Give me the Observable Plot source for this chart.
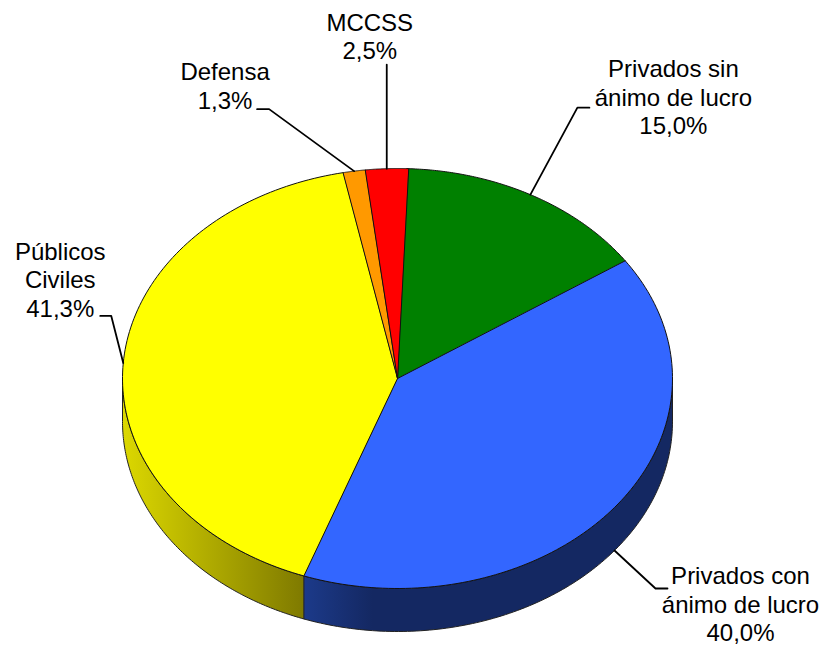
<!DOCTYPE html>
<html>
<head>
<meta charset="utf-8">
<style>html,body{margin:0;padding:0;background:#fff}svg{display:block}</style>
<script src="https://cdn.jsdelivr.net/npm/d3@7"></script>
<script src="https://cdn.jsdelivr.net/npm/@observablehq/plot@0.6"></script>
</head>
<body>
<script>
// Data, clockwise from the first slice after the top of the pie
const names = ["Privados sin ánimo de lucro", "Privados con ánimo de lucro", "Públicos Civiles", "Defensa", "MCCSS"];
const labelLines = ["Privados sin\nánimo de lucro", "Privados con\nánimo de lucro", "Públicos\nCiviles", "Defensa", "MCCSS"];
const shares = [15.0, 40.0, 41.3, 1.3, 2.5];
const sliceColors = ["#008000", "#3366FF", "#FFFF00", "#FF9900", "#FF0000"];

// Chart layout
const W = 825, H = 646;
const cx = 397, cy = 378, rx = 275, ry = 210, depth = 43;
const startDeg = 1.9;
const toX = px => (px - cx) / rx;
const toY = py => (cy - py) / ry;
const rad = d => d * Math.PI / 180;

// cumulative angles from the shares
let acc = startDeg;
const slices = names.map((name, i) => {
  const a0 = acc, a1 = acc + shares[i] * 3.6;
  acc = a1;
  return {name, a0, a1, mid: (a0 + a1) / 2};
});
const arc = (a0, a1) => d3.range(0, 121).map(k => {
  const a = rad(a0 + (a1 - a0) * k / 120);
  return {x: Math.sin(a), y: Math.cos(a)};
});

const topPts = slices.flatMap(s => [
  {name: s.name, x: 0, y: 0},
  ...arc(s.a0, s.a1).map(p => ({name: s.name, ...p}))
]);

// The wall is the front half of each slice, lowered by the depth
const dy = depth / ry;
const wall = (a0, a1) => {
  const up = arc(a0, a1);
  const down = up.slice().reverse().map(p => ({x: p.x, y: p.y - dy}));
  return [...up, ...down];
};
const blue = slices[1];
const blueWall = wall(90, blue.a1);
const yellowWall = wall(blue.a1, 270);

// Leader lines start on the pie at each slice's mid angle; the bends are pixel offsets
const leaderBends = [
  [[47, -87], [59, -87]],
  [[41, 38], [53, 38]],
  [[-12, -47], [-23, -47]],
  [[-85, -62], [-97, -62]],
  [[0, -104]]
];
const sideDrop = [0, depth, 0, 0, 0];
const leaders = slices.flatMap((s, i) => {
  const a = rad(s.mid);
  const px = cx + rx * Math.sin(a), py = cy - ry * Math.cos(a) + sideDrop[i];
  return [[0, 0], ...leaderBends[i]].map(([ox, oy]) => ({name: s.name, x: toX(px + ox), y: toY(py + oy)}));
});

// Label centres, as pixel offsets from the same mid-angle point
const labelOffsets = [[143, -98], [126, 53], [-63, -84], [-129, -86], [-17, -133]];
const labels = slices.map((s, i) => {
  const a = rad(s.mid);
  const px = cx + rx * Math.sin(a), py = cy - ry * Math.cos(a) + sideDrop[i];
  return {
    text: labelLines[i] + "\n" + shares[i].toFixed(1).replace(".", ",") + "%",
    x: toX(px + labelOffsets[i][0]),
    y: toY(py + labelOffsets[i][1])
  };
});

const gradients = () => {
  const defs = d3.create("svg:defs");
  const add = (id, x1, x2, stops) => {
    const g = defs.append("linearGradient").attr("id", id)
      .attr("gradientUnits", "userSpaceOnUse")
      .attr("x1", x1).attr("x2", x2).attr("y1", 0).attr("y2", 0);
    stops.forEach(([o, c]) => g.append("stop").attr("offset", o).attr("stop-color", c));
  };
  add("wallYellow", 122, 303, [[0, "#DCD800"], [1, "#7F7A00"]]);
  add("wallBlue", 303, 372, [[0, "#1C3A8A"], [1, "#142862"]]);
  return defs.node();
};

const chart = Plot.plot({
  width: W, height: H,
  margin: 0,
  x: {domain: [-1, 1], range: [cx - rx, cx + rx], axis: null},
  y: {domain: [-1, 1], range: [cy + ry, cy - ry], axis: null},
  color: {domain: names, range: sliceColors},
  marks: [
    gradients,
    Plot.line(yellowWall, {x: "x", y: "y", curve: "linear-closed", fill: "url(#wallYellow)", stroke: "#222", strokeWidth: 1}),
    Plot.line(blueWall, {x: "x", y: "y", curve: "linear-closed", fill: "url(#wallBlue)", stroke: "#222", strokeWidth: 1}),
    Plot.line(topPts, {x: "x", y: "y", z: "name", fill: "name", curve: "linear-closed", stroke: "#111", strokeWidth: 1, strokeLinejoin: "round"}),
    Plot.line(leaders, {x: "x", y: "y", z: "name", stroke: "#000", strokeWidth: 1.8, curve: "linear"}),
    Plot.text(labels, {x: "x", y: "y", text: "text", fontFamily: "Liberation Sans", fontSize: 24, lineHeight: 1.19, fill: "#000", textAnchor: "middle"})
  ]
});
document.body.append(chart);
</script>
</body>
</html>
